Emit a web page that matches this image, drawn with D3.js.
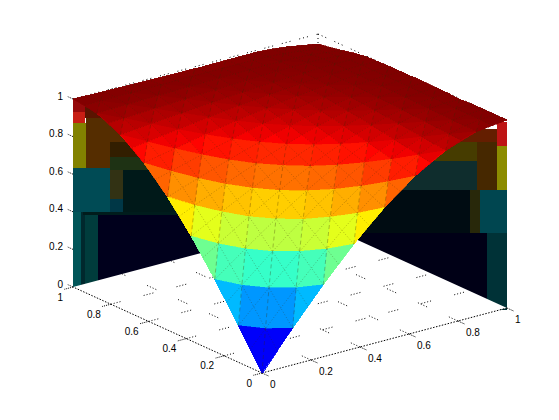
<!DOCTYPE html>
<html><head><meta charset="utf-8">
<script src="https://d3js.org/d3.v7.min.js"></script>
<style>html,body{margin:0;padding:0;background:#fff}svg{display:block}text{font-family:"Liberation Sans",Arial,sans-serif;font-size:10px;fill:#000}</style>
</head><body><svg id="c" width="559" height="420"></svg>
<script>
const tickValues = [0, 0.2, 0.4, 0.6, 0.8, 1];
const tickLabels = ["0", "0.2", "0.4", "0.6", "0.8", "1"];
const nodeCoords = d3.range(17).map(k => k / 16);
// surface height at node (row = y index, column = x index)
const zRows = [
[0,.098,.195,.29,.383,.471,.556,.634,.707,.773,.831,.882,.924,.957,.981,.995,1],
[.098,.186,.274,.36,.443,.523,.6,.67,.736,.795,.848,.894,.931,.961,.983,.995,1],
[.195,.274,.352,.428,.503,.574,.643,.705,.764,.817,.864,.905,.939,.965,.985,.996,1],
[.29,.36,.428,.496,.562,.624,.685,.74,.792,.839,.88,.916,.946,.969,.987,.996,1],
[.383,.443,.503,.562,.619,.674,.726,.774,.819,.86,.896,.927,.953,.973,.988,.997,.995],
[.471,.523,.574,.624,.674,.72,.765,.806,.845,.88,.911,.938,.96,.977,.99,.997,1],
[.556,.6,.643,.685,.726,.765,.803,.837,.87,.899,.925,.948,.966,.981,.992,.998,1],
[.634,.67,.705,.74,.774,.806,.837,.866,.893,.917,.938,.957,.972,.984,.993,.998,1],
[.707,.736,.764,.792,.819,.845,.87,.893,.914,.933,.95,.965,.978,.987,.994,.999,1],
[.773,.795,.817,.839,.86,.88,.899,.917,.933,.948,.962,.973,.983,.99,.996,.999,1],
[.831,.848,.864,.88,.896,.911,.925,.938,.95,.962,.971,.98,.987,.993,.997,.999,1],
[.882,.894,.905,.916,.927,.938,.948,.957,.965,.973,.98,.986,.991,.995,.998,.999,.998],
[.924,.931,.939,.946,.953,.96,.966,.972,.978,.983,.987,.991,.994,.997,.999,.998,.995],
[.957,.961,.965,.969,.973,.977,.981,.984,.987,.99,.993,.995,.997,.998,.997,.99,.985],
[.981,.983,.985,.987,.988,.99,.992,.993,.994,.996,.997,.998,.997,.995,.99,.98,.97],
[.995,.995,.996,.996,.997,.997,.998,.998,.998,.998,.998,.997,.995,.99,.98,.97,.955],
[1,.998,.996,.995,.993,.992,.991,.99,.99,.99,.99,.99,.99,.985,.975,.96,.947]
];
// inside of the far sheet seen under the surface: [from, to, zLow, zHigh, colour]
const leftWall = [
[0,1,0,.4,"#00001c"],
[0,.033,0,.4,"#005558"],[.033,.049,0,.4,"#00282d"],[.049,.1,0,.4,"#003c3c"],
[.04,.43,.385,.4,"#001c1c"],
[0,.151,.4,.633,"#004b55"],[.151,.204,.47,.633,"#323214"],[.151,.204,.4,.47,"#003746"],
[.204,.6,.4,.625,"#001919"],
[0,.053,.633,.872,"#828200"],[.053,.151,.633,.9,"#552d00"],[.151,.27,.77,.9,"#552d00"],
[.151,.31,.69,.77,"#321e00"],[.151,.4,.625,.69,"#1e3214"],
[.049,.151,.9,.965,"#5a1400"],[0,.049,.872,.93,"#c81e14"],[0,.049,.93,.995,"#96090a"]
];
const rightWall = [
[0,.95,0,.41,"#000016"],[0,.105,0,.41,"#003237"],
[.132,.95,.41,.64,"#000c12"],[0,.143,.41,.64,"#004650"],[.143,.196,.41,.64,"#28280a"],
[.196,.8,.64,.79,"#0f2d2d"],[.053,.16,.64,.9,"#462800"],[.16,.5,.79,.895,"#463c00"],
[.16,.355,.64,.79,"#0f2d2d"],[0,.053,.64,.875,"#8c8c00"],
[.053,.3,.895,.965,"#641e00"],[0,.053,.875,1,"#be1414"]
];

const W = 559, H = 420;
const xFromX = d3.scaleLinear().domain([0,1]).range([262,507]);
const xFromY = d3.scaleLinear().domain([0,1]).range([0,-189]);
const yFromX = d3.scaleLinear().domain([0,1]).range([373,308]);
const yFromY = d3.scaleLinear().domain([0,1]).range([0,-86]);
const yFromZ = d3.scaleLinear().domain([0,1]).range([0,-188]);
const jet = d3.scaleLinear().domain([0,.125,.375,.625,.875,1])
  .range(["#00008f","#0000ff","#00ffff","#ffff00","#ff0000","#800000"]).clamp(true);
const P = (x,y,z) => [xFromX(x)+xFromY(y), yFromX(x)+yFromY(y)+yFromZ(z)];
const svg = d3.select("#c");
const poly = pts => pts.map(p => p.join(",")).join(" ");
const lineGen = d3.line();

// far walls
const leftU = d3.scaleLinear().domain([0,1]).range([73,318]);
const leftZ = d3.scaleLinear().domain([0,1]).range([287,99]);
const rightU = d3.scaleLinear().domain([0,1]).range([507,318]);
const rightZ = d3.scaleLinear().domain([0,1]).range([310,122]);
const gWalls = svg.append("g").attr("shape-rendering","crispEdges");
gWalls.selectAll("rect.l").data(leftWall).join("rect").attr("class","l")
  .attr("x",d=>leftU(d[0])).attr("width",d=>leftU(d[1])-leftU(d[0]))
  .attr("y",d=>leftZ(d[3])).attr("height",d=>leftZ(d[2])-leftZ(d[3])).attr("fill",d=>d[4]);
gWalls.selectAll("rect.r").data(rightWall).join("rect").attr("class","r")
  .attr("x",d=>rightU(d[1])).attr("width",d=>rightU(d[0])-rightU(d[1]))
  .attr("y",d=>rightZ(d[3])).attr("height",d=>rightZ(d[2])-rightZ(d[3])).attr("fill",d=>d[4]);

// floor
svg.append("polygon").attr("points",poly([P(0,0,0),P(1,0,0),P(1,1,0),P(0,1,0),[40,287],[40,420],[540,420],[540,308]]))
  .attr("fill","#fff");

// floor grid
const gGrid = svg.append("g").attr("fill","none").attr("stroke","#000").attr("stroke-width",1)
  .attr("stroke-dasharray","1 2 1 2 1 2 1 24");
tickValues.slice(1,5).forEach(t=>{
  gGrid.append("path").attr("d",lineGen([P(t,0,0),P(t,1,0)]));
  gGrid.append("path").attr("d",lineGen([P(0,t,0),P(1,t,0)]));
});

// box edges and axes
const gAxes = svg.append("g").attr("fill","none").attr("stroke","#000").attr("stroke-width",1);
[[P(0,0,0),P(1,0,0)],[P(0,0,0),P(0,1,0)]].forEach(s=>gAxes.append("path").attr("d",lineGen(s)).attr("stroke-dasharray","1.5 1.5"));
[[P(0,1,1),P(1,1,1)],[P(1,1,1),P(1,0,1)]].forEach(s=>gAxes.append("path").attr("d",lineGen(s)).attr("stroke-dasharray","1 3 1 3 1 9"));
gAxes.append("path").attr("d",lineGen([P(1,1,1),P(1,1,.95)])).attr("stroke-dasharray","1 3");
tickValues.forEach(t=>{
  gAxes.append("path").attr("d",lineGen([P(t,0,0),P(t,-.035,0)])).attr("stroke-dasharray","1 1");
  gAxes.append("path").attr("d",lineGen([P(0,t,0),P(-.035,t,0)])).attr("stroke-dasharray","1 1");
  gAxes.append("path").attr("d",lineGen([P(0,1,t),P(0,1.03,t)])).attr("stroke-dasharray","1 1");
});

// tick labels
const gText = svg.append("g");
tickValues.forEach((t,k)=>{
  let p = P(t,0,0);
  gText.append("text").attr("x",p[0]+8).attr("y",p[1]+11).attr("dy",".35em").attr("text-anchor","start").text(tickLabels[k]);
  p = P(0,t,0);
  gText.append("text").attr("x",p[0]-10).attr("y",p[1]+10).attr("dy",".35em").attr("text-anchor","end").text(tickLabels[k]);
  p = P(0,1,t);
  gText.append("text").attr("x",p[0]-10).attr("y",p[1]-3).attr("dy",".35em").attr("text-anchor","end").text(tickLabels[k]);
});

// surface
const node = (i,j) => { const x=nodeCoords[i], y=nodeCoords[j]; return {i,j,z:zRows[j][i],p:P(x,y,zRows[j][i])}; };
const faces = [];
const triangleFrom = 0.87, topBand = 27;
for (let j=0;j<17;j++) for (let i=0;i<17;i++) {
  if ((i+j)%2===0) continue;
  const around = [[i-1,j],[i,j+1],[i+1,j],[i,j-1]].filter(a=>a[0]>=0&&a[0]<17&&a[1]>=0&&a[1]<17).map(a=>node(a[0],a[1]));
  const c = node(i,j);
  const mean = d3.mean(around.concat([c]),n=>n.z);
  const depth = i+j;
  const tone = v => depth>=topBand ? jet(1) : jet(v);
  const ring = around.concat([around[0]]);
  if (mean < triangleFrom) {
    d3.pairs(ring).forEach(([a,b])=>faces.push({depth,pts:[a.p,b.p,c.p],fill:tone(mean)}));
  } else {
    d3.pairs(ring).forEach(([a,b])=>faces.push({depth,pts:[a.p,b.p,c.p],fill:tone((a.z+b.z+c.z)/3)}));
  }
}
faces.sort((a,b)=>b.depth-a.depth);
svg.append("g").attr("shape-rendering","crispEdges").selectAll("polygon").data(faces).join("polygon")
  .attr("points",d=>poly(d.pts)).attr("fill",d=>d.fill).attr("stroke",d=>d.fill).attr("stroke-width",.6);

// mesh lines
const gMesh = svg.append("g").attr("fill","none").attr("stroke","#3c2800").attr("stroke-opacity",.3).attr("stroke-width",1);
d3.range(1,16).forEach(k=>{
  gMesh.append("path").attr("stroke-dasharray","1 2").attr("d",lineGen(d3.range(17).map(m=>node(k,m).p)));
  gMesh.append("path").attr("stroke-dasharray","1 2").attr("d",lineGen(d3.range(17).map(m=>node(m,k).p)));
});
d3.range(-14,15,2).forEach(d=>{
  const run = d3.range(17).filter(i=>i-d>=0&&i-d<17).map(i=>node(i,i-d).p);
  gMesh.append("path").attr("stroke-dasharray","4 3").attr("stroke-opacity",.3).attr("d",lineGen(run));
});
</script></body></html>
